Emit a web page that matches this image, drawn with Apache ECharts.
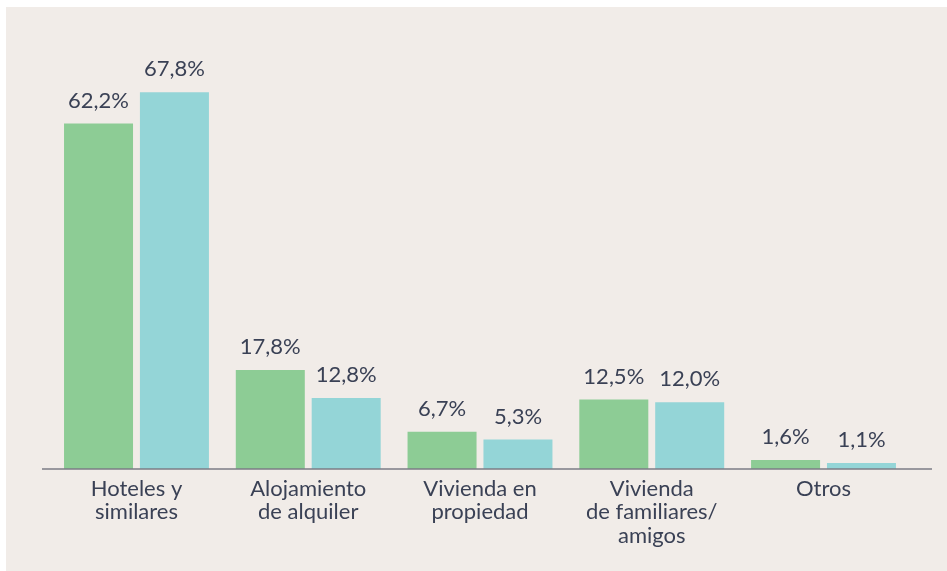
<!DOCTYPE html>
<html>
<head>
<meta charset="utf-8">
<script src="https://cdn.jsdelivr.net/npm/echarts@6/dist/echarts.min.js"></script>
<style>
  html, body { margin: 0; padding: 0; background: #ffffff; }
  #chart { position: absolute; left: 6px; top: 7px; width: 941px; height: 564px; }
</style>
</head>
<body>
<div id="chart"></div>
<script>
// categorías y porcentajes (dos series)
const categories = ['Hoteles y\nsimilares', 'Alojamiento\nde alquiler', 'Vivienda en\npropiedad', 'Vivienda\nde familiares/\namigos', 'Otros'];
const serieVerde = [62.2, 17.8, 6.7, 12.5, 1.6];
const serieAzul = [67.8, 12.8, 5.3, 12.0, 1.1];

window.addEventListener('load', () => {
    let chart = echarts.init(document.getElementById('chart'));
    const textColor = '#3a4155';
    const fmt = p => p.value.toFixed(1).replace('.', ',') + '%';
    let label = {
        show: true,
        position: 'top',
        distance: 12,
        color: textColor,
        fontFamily: 'Lato',
        fontSize: 22,
        formatter: fmt
    };
    let option = {
        backgroundColor: '#f1ece8',
        animation: false,
        grid: { left: 44.6, right: 37.6, top: 77, bottom: 102 },
        xAxis: {
            type: 'category',
            data: categories,
            axisLine: { show: false },
            axisTick: { show: false },
            axisLabel: {
                color: textColor,
                fontFamily: 'Lato',
                fontSize: 22,
                lineHeight: 23.5,
                margin: 8,
                interval: 0
            }
        },
        yAxis: {
            type: 'value',
            min: 0,
            max: 69.3,
            show: false,
            splitLine: { show: false }
        },
        series: [
            {
                type: 'bar',
                data: serieVerde,
                barWidth: 69,
                barGap: '10%',
                itemStyle: { color: '#8dcc95' },
                label: label
            },
            {
                type: 'bar',
                data: serieAzul,
                barWidth: 69,
                itemStyle: { color: '#94d5d7' },
                label: label
            }
        ],
        graphic: [
            {
                type: 'line',
                z: 100,
                shape: { x1: 36, y1: 462, x2: 926, y2: 462 },
                style: { stroke: '#7b7c86', lineWidth: 1.5 }
            }
        ]
    };
    chart.setOption(option);
});
</script>
</body>
</html>
